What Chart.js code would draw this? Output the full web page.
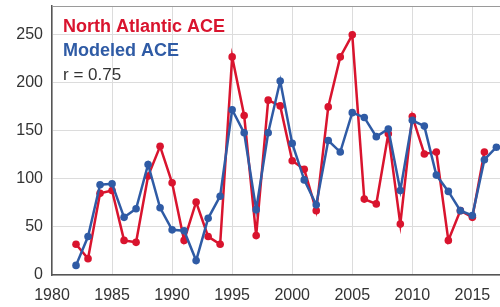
<!DOCTYPE html>
<html>
<head>
<meta charset="utf-8">
<script src="https://cdn.jsdelivr.net/npm/chart.js@4"></script>
<style>
  html, body { margin: 0; padding: 0; background: #fff; }
  #wrap { width: 500px; height: 307px; }
</style>
</head>
<body>
<div id="wrap"><canvas id="myChart"></canvas></div>
<script>
const years = [
    1982, 1983, 1984, 1985, 1986, 1987, 1988, 1989, 1990, 1991, 1992, 1993,
    1994, 1995, 1996, 1997, 1998, 1999, 2000, 2001, 2002, 2003, 2004, 2005,
    2006, 2007, 2008, 2009, 2010, 2011, 2012, 2013, 2014, 2015, 2016, 2017,
];
const observedAce = [
    32, 17, 85, 88, 36, 34, 103, 134, 96, 36, 76, 40,
    32, 227, 166, 41, 182, 176, 119, 110, 67, 175, 227, 250,
    79, 74, 147, 53, 165, 126, 128, 36, 67, 60, 128, null,
];
const modeledAce = [
    10, 40, 94, 95, 60, 69, 115, 70, 47, 46, 15, 59,
    82, 172, 148, 68, 148, 202, 137, 99, 73, 140, 128, 169,
    164, 144, 152, 88, 161, 155, 104, 87, 67, 62, 120, 133,
];
const yTicks = [0, 50, 100, 150, 200, 250];

const red = "#d9142e";
const blue = "#2f5ba5";
const font = "'Liberation Sans', Arial, sans-serif";

const toPoints = (vals) => years.map((y, i) => ({ x: y, y: vals[i] }));

// legend text and top frame line, drawn inside the plot
const annotate = {
    id: "annotate",
    afterDraw(chart) {
        const { ctx, chartArea } = chart;
        ctx.save();
        ctx.strokeStyle = "#9a9a9a";
        ctx.lineWidth = 1;
        ctx.beginPath();
        ctx.moveTo(chartArea.left, chartArea.top + 0.5);
        ctx.lineTo(chartArea.right, chartArea.top + 0.5);
        ctx.stroke();
        ctx.textBaseline = "middle";
        ctx.font = "bold 18px " + font;
        ctx.fillStyle = red;
        ctx.fillText("North Atlantic ACE", 63, 27);
        ctx.fillStyle = blue;
        ctx.fillText("Modeled ACE", 63, 51);
        ctx.font = "17px " + font;
        ctx.fillStyle = "#333";
        ctx.fillText("r = 0.75", 63, 75);
        ctx.restore();
    },
};

const config = {
    type: "line",
    data: {
        datasets: [
            {
                label: "Modeled ACE",
                data: toPoints(modeledAce),
                borderColor: blue,
                backgroundColor: blue,
                borderWidth: 2.5,
                pointRadius: 3.8,
                pointBorderWidth: 0,
                tension: 0,
            },
            {
                label: "North Atlantic ACE",
                data: toPoints(observedAce),
                borderColor: red,
                backgroundColor: red,
                borderWidth: 2.5,
                pointRadius: 3.8,
                pointBorderWidth: 0,
                tension: 0,
            },
        ],
    },
    options: {
        responsive: true,
        maintainAspectRatio: false,
        animation: false,
        layout: { autoPadding: false, padding: { top: 6, right: 0, left: 0, bottom: 0 } },
        plugins: {
            legend: { display: false },
            tooltip: { enabled: false },
        },
        scales: {
            x: {
                type: "linear",
                min: 1980,
                max: 2017.3,
                ticks: {
                    stepSize: 5,
                    includeBounds: false,
                    autoSkip: false,
                    maxRotation: 0,
                    color: "#333",
                    padding: 11,
                    font: { family: font, size: 16 },
                    callback: (v) => String(v),
                },
                grid: { color: "#dcdcdc", tickLength: 0 },
                border: { color: "#555", width: 1.5 },
                afterFit: (s) => {
                    s.height = 32;
                    s.paddingLeft = 0;
                    s.paddingRight = 0;
                },
            },
            y: {
                min: 0,
                max: 280,
                afterBuildTicks: (s) => { s.ticks = yTicks.map((v) => ({ value: v })); },
                ticks: {
                    color: "#333",
                    padding: 9,
                    font: { family: font, size: 16 },
                },
                grid: { color: "#dcdcdc", tickLength: 0 },
                border: { color: "#555", width: 1.5 },
                afterFit: (s) => {
                    s.width = 52;
                    s.paddingTop = 0;
                    s.paddingBottom = 0;
                },
            },
        },
    },
    plugins: [annotate],
};

const ctx = document.getElementById("myChart").getContext("2d");
const myChart = new Chart(ctx, config);
</script>
</body>
</html>
